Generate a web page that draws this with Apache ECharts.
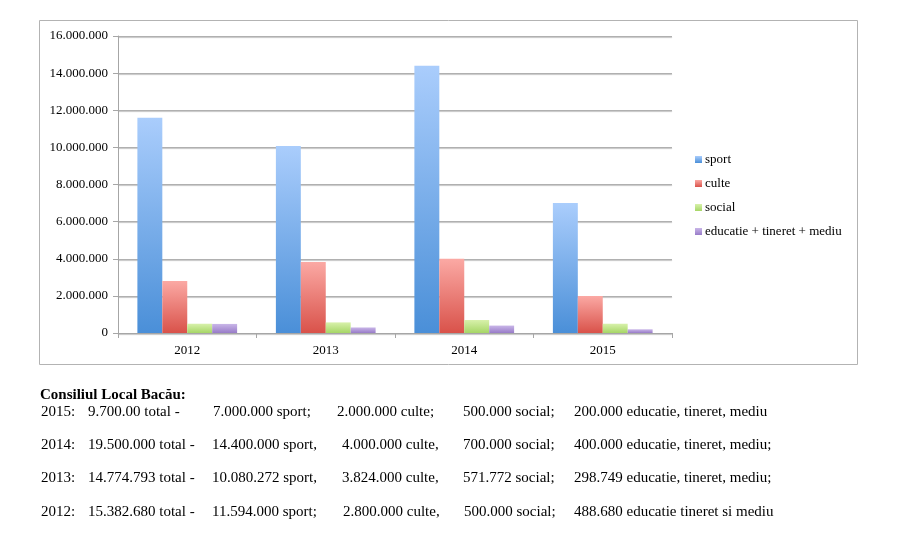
<!DOCTYPE html>
<html>
<head>
<meta charset="utf-8">
<script src="https://cdn.jsdelivr.net/npm/echarts@6/dist/echarts.min.js"></script>
<style>
  html, body { margin: 0; padding: 0; background: #fff; }
  #wrap { position: relative; width: 900px; height: 545px; }
  #chart { position: absolute; left: 0; top: 0; width: 900px; height: 545px; }
  .t { position: absolute; font-family: "Liberation Serif", "DejaVu Serif", serif; font-size: 15px; color: #000; white-space: nowrap; line-height: 16px; }
  .b { font-weight: bold; }
</style>
</head>
<body>
<div id="wrap">
  <div id="chart"></div>
  <div id="notes"></div>
</div>
<script>
const categories = ['2012', '2013', '2014', '2015'];
const sport  = [11594000, 10080272, 14400000, 7000000];
const culte  = [2800000, 3824000, 4000000, 2000000];
const social = [500000, 571772, 700000, 500000];
const edu    = [488680, 298749, 400000, 200000];
const seriesNames = ['sport', 'culte', 'social', 'educatie + tineret + mediu'];
const yTicks = [0, 2000000, 4000000, 6000000, 8000000, 10000000, 12000000, 14000000, 16000000];

const noteTitle = 'Consiliul Local Bacău:';
const noteRows = [
  ['2015:', '9.700.00 total -', '7.000.000 sport;', '2.000.000 culte;', '500.000 social;', '200.000 educatie, tineret, mediu'],
  ['2014:', '19.500.000 total -', '14.400.000 sport,', '4.000.000 culte,', '700.000 social;', '400.000 educatie, tineret, mediu;'],
  ['2013:', '14.774.793 total -', '10.080.272 sport,', '3.824.000 culte,', '571.772 social;', '298.749 educatie, tineret, mediu;'],
  ['2012:', '15.382.680 total -', '11.594.000 sport;', '2.800.000 culte,', '500.000 social;', '488.680 educatie tineret si mediu']
];

// notes layout
const notes = document.getElementById('notes');
const rowY = [403, 436, 469, 503];
const colX = [[41, 88, 213, 337, 463, 574], [41, 88, 212, 342, 463, 574], [41, 88, 212, 342, 463, 574], [41, 88, 212, 343, 464, 574]];
function addText(txt, x, y, cls) {
  const d = document.createElement('div');
  d.className = 't' + (cls ? ' ' + cls : '');
  d.style.left = x + 'px'; d.style.top = y + 'px';
  d.textContent = txt;
  notes.appendChild(d);
}
addText(noteTitle, 40, 386, 'b');
noteRows.forEach((r, i) => r.forEach((c, j) => addText(c, colX[i][j], rowY[i])));

const grads = [
  ['#aacdfc', '#4a8fd8'],
  ['#fba9a4', '#d9524a'],
  ['#d8f1ab', '#a6d666'],
  ['#c9b6e8', '#987bc8']
];
function grad(c) {
  return new echarts.graphic.LinearGradient(0, 0, 0, 1, [{offset: 0, color: c[0]}, {offset: 1, color: c[1]}]);
}
const dataSets = [sport, culte, social, edu];

const chart = echarts.init(document.getElementById('chart'));
const fontFam = '"Liberation Serif", "DejaVu Serif", serif';
function fmt(v) {
  return String(v).replace(/\B(?=(\d{3})+(?!\d))/g, '.');
}
chart.setOption({
  animation: false,
  backgroundColor: '#fff',
  graphic: [{
    type: 'rect',
    shape: { x: 39.5, y: 20.5, width: 818, height: 344 },
    style: { fill: 'none', stroke: '#b3b3b3', lineWidth: 1 },
    silent: true, z: -1
  }],
  grid: { left: 118, right: 228, top: 36, bottom: 212, containLabel: false },
  legend: {
    orient: 'vertical',
    left: 690, top: 148,
    itemWidth: 7, itemHeight: 7, itemGap: 11,
    icon: 'rect',
    textStyle: { fontFamily: fontFam, fontSize: 13, color: '#000', padding: [0, 0, 0, -2] },
    data: seriesNames
  },
  xAxis: {
    type: 'category',
    data: categories,
    axisLine: { lineStyle: { color: '#a6a6a6' } },
    axisTick: { show: true, length: 5, lineStyle: { color: '#a6a6a6' } },
    axisLabel: { fontFamily: fontFam, fontSize: 13, color: '#000', margin: 11 }
  },
  yAxis: {
    type: 'value',
    min: 0, max: 16000000, interval: 2000000,
    axisLine: { show: true, lineStyle: { color: '#a6a6a6' } },
    axisTick: { show: true, length: 5, inside: false, lineStyle: { color: '#a6a6a6' } },
    splitLine: { lineStyle: { color: '#b0b0b0', width: 1, shadowColor: 'rgba(0,0,0,0.25)', shadowOffsetY: 1, shadowBlur: 1 } },
    axisLabel: { fontFamily: fontFam, fontSize: 13, color: '#000', margin: 10, formatter: v => yTicks.includes(v) ? fmt(v) : '' }
  },
  series: dataSets.map((d, i) => ({
    name: seriesNames[i],
    type: 'bar',
    data: d,
    barGap: '0%',
    barCategoryGap: '28%',
    itemStyle: { color: grad(grads[i]) },
    emphasis: { disabled: true }
  })),
  color: grads.map(g => g[1])
});
</script>
</body>
</html>
